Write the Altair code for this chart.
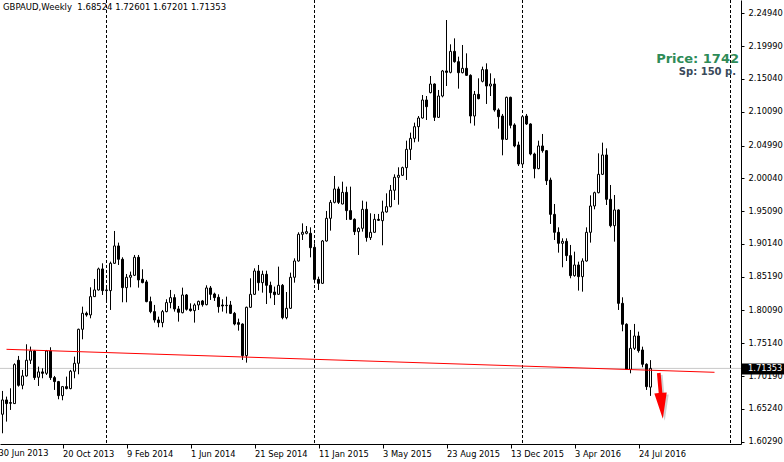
import altair as alt
import pandas as pd

# ---------------- data ----------------
SYMBOL = "GBPAUD"
TIMEFRAME = "Weekly"
FIRST_WEEK = "2013-07-07"

OPEN = [1.6443,1.6659,1.6619,1.6604,1.7258,1.6880,1.7021,1.7258,1.7398,1.7001,
        1.7082,1.7061,1.7398,1.6996,1.6936,1.6724,1.6860,1.6830,1.7092,1.7212,
        1.7725,1.7967,1.7942,1.8218,1.8319,1.8636,1.8309,1.8309,1.8721,1.8983,
        1.8782,1.8354,1.8510,1.8540,1.8812,1.8480,1.8440,1.8143,1.7992,1.7866,
        1.7826,1.7992,1.8128,1.8203,1.8032,1.7976,1.8243,1.8032,1.8007,1.8092,
        1.8153,1.8097,1.8349,1.8258,1.8208,1.8092,1.8087,1.8092,1.7966,1.7826,
        1.7805,1.7328,1.8057,1.8253,1.8605,1.8429,1.8555,1.8389,1.8288,1.8253,
        1.8389,1.7901,1.8042,1.8510,1.8756,1.9159,1.9174,1.9174,1.8962,1.8479,
        1.8419,1.9058,1.9400,1.9641,1.9843,1.9616,1.9792,1.9516,1.9385,1.9199,
        1.9249,1.9536,1.9109,1.9189,1.9385,1.9365,1.9496,1.9576,1.9823,2.0019,
        2.0049,2.0165,2.0441,2.0607,2.0783,2.0914,2.1186,2.1297,2.1427,2.0924,
        2.1246,2.1624,2.1603,2.1920,2.1764,2.1598,2.1664,2.1558,2.0944,2.1271,
        2.1468,2.1644,2.1397,2.1427,2.1035,2.0944,2.0592,2.1226,2.0809,2.0507,
        2.0220,2.0944,2.0824,2.0371,2.0150,2.0492,2.0421,1.9978,1.9460,1.9189,
        1.9023,1.9053,1.8837,1.8535,1.8696,1.8520,1.8756,1.9189,1.9586,1.9787,
        2.0064,2.0356,1.9687,1.9289,1.9526,1.8117,1.7801,1.7121,1.7438,1.7624,
        1.7413,1.7197,1.68524]
HIGH = [1.6795,1.6709,1.6835,1.7212,1.7323,1.7112,1.7499,1.7464,1.7413,1.7162,
        1.7137,1.7413,1.7454,1.7021,1.6946,1.6870,1.7011,1.7112,1.7313,1.7735,
        1.8067,1.7992,1.8359,1.8485,1.8656,1.8721,1.8394,1.8746,1.9209,1.9033,
        1.8812,1.8560,1.8596,1.8847,1.8847,1.8631,1.8470,1.8218,1.8093,1.7916,
        1.8017,1.8178,1.8319,1.8254,1.8077,1.8354,1.8258,1.8117,1.8117,1.8158,
        1.8168,1.8389,1.8379,1.8278,1.8253,1.8178,1.8218,1.8153,1.7987,1.7886,
        1.7815,1.8067,1.8495,1.8645,1.8696,1.8610,1.8610,1.8444,1.8369,1.8671,
        1.8409,1.8288,1.8580,1.8796,1.9189,1.9324,1.9284,1.9264,1.9023,1.8520,
        1.9073,1.9511,1.9677,2.0039,1.9878,1.9953,1.9878,1.9878,1.9400,1.9264,
        1.9667,1.9652,1.9476,1.9466,1.9466,1.9667,1.9777,1.9903,2.0064,2.0170,
        2.0180,2.0572,2.0693,2.0844,2.0944,2.1261,2.1246,2.1548,2.1437,2.1337,
        2.1639,2.2393,2.2026,2.2116,2.1840,2.2016,2.1890,2.1573,2.1322,2.1513,
        2.1689,2.1739,2.1588,2.1513,2.1060,2.0975,2.1236,2.1236,2.0834,2.0557,
        2.0944,2.0975,2.0834,2.0391,2.0572,2.0673,2.0431,2.0014,1.9616,1.9264,
        1.9098,1.9098,1.8998,1.8897,1.8746,1.8796,1.9264,1.9747,1.9802,2.0381,
        2.0542,2.0456,1.9903,1.9752,1.9536,1.8208,1.7816,1.7715,1.7806,1.7690,
        1.7463,1.7212,1.72601]
LOW = [1.6156,1.6332,1.6508,1.6599,1.6860,1.6820,1.7011,1.7202,1.6961,1.6870,
       1.6986,1.7036,1.6961,1.6810,1.6669,1.6654,1.6820,1.6820,1.6986,1.7046,
       1.7574,1.7916,1.7891,1.8218,1.8309,1.8243,1.8168,1.8017,1.8711,1.8696,
       1.8133,1.8133,1.8359,1.8530,1.8354,1.8419,1.8133,1.7967,1.7826,1.7756,
       1.7756,1.7982,1.8042,1.7992,1.7841,1.7966,1.8007,1.7992,1.7826,1.8017,
       1.8067,1.8087,1.8168,1.8153,1.7976,1.7992,1.7966,1.7956,1.7785,1.7705,
       1.7262,1.7222,1.8047,1.8243,1.8308,1.8278,1.8107,1.8193,1.8092,1.8243,
       1.7876,1.7876,1.8032,1.8429,1.8746,1.9073,1.9159,1.8811,1.8419,1.8318,
       1.8409,1.9048,1.9214,1.9626,1.9616,1.9611,1.9375,1.9375,1.9148,1.8847,
       1.9199,1.9048,1.9073,1.9184,1.9360,1.8993,1.9486,1.9566,1.9677,1.9606,
       2.0039,1.9979,2.0280,2.0547,2.0557,2.0904,2.0884,2.1286,2.0869,2.0914,
       2.1226,2.1397,2.1588,2.1749,2.1357,2.1588,2.1548,2.0834,2.0799,2.1196,
       2.1452,2.1126,2.1246,2.1010,2.0753,2.0351,2.0582,2.0758,2.0472,2.0190,
       2.0205,2.0809,2.0351,2.0004,2.0140,2.0391,1.9903,1.9315,1.9073,1.8882,
       1.8661,1.8756,1.8495,1.8520,1.8309,1.8293,1.8746,1.9033,1.9536,1.9777,
       2.0054,1.9601,1.9264,1.9048,1.8017,1.7695,1.7111,1.7061,1.7413,1.7373,
       1.7152,1.6810,1.67201]
CLOSE = [1.6659,1.6604,1.6609,1.7192,1.6880,1.7021,1.7258,1.7398,1.6996,1.7082,
         1.7061,1.7398,1.6996,1.6936,1.6724,1.6860,1.6830,1.7092,1.7212,1.7725,
         1.7967,1.7942,1.8218,1.8319,1.8636,1.8309,1.8319,1.8721,1.8983,1.8782,
         1.8354,1.8510,1.8540,1.8812,1.8470,1.8430,1.8143,1.7992,1.7866,1.7826,
         1.7992,1.8128,1.8203,1.8032,1.7982,1.8243,1.8027,1.8007,1.8092,1.8147,
         1.8097,1.8349,1.8253,1.8203,1.8067,1.8077,1.8082,1.7966,1.7805,1.7800,
         1.7328,1.8057,1.8253,1.8605,1.8429,1.8555,1.8389,1.8278,1.8248,1.8389,
         1.7901,1.8042,1.8510,1.8756,1.9159,1.9189,1.9199,1.8957,1.8479,1.8419,
         1.9058,1.9400,1.9641,1.9843,1.9641,1.9792,1.9516,1.9385,1.9199,1.9249,
         1.9536,1.9109,1.9189,1.9385,1.9370,1.9496,1.9576,1.9823,2.0019,2.0049,
         2.0165,2.0441,2.0607,2.0783,2.0914,2.1186,2.1085,2.1427,2.0924,2.1246,
         2.1624,2.1603,2.1920,2.1764,2.1598,2.1664,2.1558,2.0944,2.1271,2.1206,
         2.1644,2.1397,2.1427,2.1035,2.0934,2.0592,2.1226,2.0804,2.0492,2.0220,
         2.0934,2.0824,2.0371,2.0150,2.0492,2.0421,1.9968,1.9460,1.9189,1.9023,
         1.9053,1.8837,1.8535,1.8696,1.8520,1.8756,1.9189,1.9586,1.9787,2.0064,
         2.0356,1.9687,1.9289,1.9526,1.8117,1.7801,1.7121,1.7438,1.7624,1.7403,
         1.7197,1.6860,1.71353]

PRICE_TICKS = [2.24940, 2.19990, 2.15040, 2.10090, 2.04990, 2.00040, 1.95090,
               1.90140, 1.85190, 1.80090, 1.75140, 1.70190, 1.65240, 1.60290]
DATE_TICKS = ["2013-10-20", "2014-02-09", "2014-06-01", "2014-09-21", "2015-01-11",
              "2015-05-03", "2015-08-23", "2015-12-13", "2016-04-03", "2016-07-24"]
FIRST_LABEL_DATE = "2013-06-30"
FIRST_LABEL = "30 Jun 2013"
YEAR_SEPARATORS = ["2014-01-05", "2015-01-04", "2016-01-03", "2017-01-01"]
TREND_DATES = ["2013-07-14", "2016-12-04"]
TREND_PRICES = [1.7423, 1.7076]
ARROW_DATE = ["2016-09-01"]
ARROW_PRICE = [1.672]
TARGET_TEXT = "Price: 1742"
SPREAD_TEXT = "Sp: 150 p."

# ---------------- helpers ----------------
def ms(s):
    return int(pd.Timestamp(s).value // 10**6)

WEEK = 7 * 24 * 3600 * 1000
BASE = ms(FIRST_LABEL_DATE)
X_DOMAIN = [BASE + 0.375 * WEEK, BASE + 185.625 * WEEK]
Y_DOMAIN = [1.5994, 2.2695]

dates = pd.date_range(FIRST_WEEK, periods=len(OPEN), freq="7D")
df = pd.DataFrame({
    "t": [int(d.value // 10**6) for d in dates],
    "open": OPEN, "high": HIGH, "low": LOW, "close": CLOSE,
})

FONT = "DejaVu Sans"
FS = 8.3

x_scale = alt.Scale(type="utc", domain=X_DOMAIN, nice=False, padding=0)
y_scale = alt.Scale(domain=Y_DOMAIN, nice=False, zero=False, padding=0)
x_axis = alt.Axis(values=[ms(d) for d in DATE_TICKS],
                  labelExpr="utcFormat(datum.value, '%-d %b %Y')",
                  orient="bottom", title=None, grid=False,
                  tickSize=4, tickColor="black", domainColor="black",
                  labelAlign="left", labelBaseline="top", labelPadding=1,
                  labelFont=FONT, labelFontSize=FS, labelColor="black",
                  labelOverlap=False, labelFlush=False)
y_axis = alt.Axis(values=PRICE_TICKS, format=".5f", orient="right", title=None,
                  grid=False, tickSize=3, tickColor="black", domainColor="black",
                  labelPadding=4, labelFont=FONT, labelFontSize=FS,
                  labelColor="black", labelOverlap=False, labelFlush=False)

def X(field):
    return alt.X(field, type="temporal", scale=x_scale, axis=x_axis)

def Y(field):
    return alt.Y(field, type="quantitative", scale=y_scale, axis=y_axis)

base = alt.Chart(df)

last_price = CLOSE[-1]
price_df = pd.DataFrame({"p": [last_price], "label": [f"{last_price:.5f}"]})

price_line = alt.Chart(price_df).mark_rule(color="#c8c8c8", strokeWidth=1).encode(y=Y("p"))

sep_df = pd.DataFrame({"t": [ms(d) for d in YEAR_SEPARATORS]})
separators = alt.Chart(sep_df).mark_rule(color="black", strokeWidth=1, strokeDash=[3, 2]).encode(x=X("t"))

wicks = base.mark_rule(color="black", strokeWidth=1).encode(x=X("t"), y=Y("low"), y2="high")
bodies = base.mark_bar(size=2, stroke="black", strokeWidth=1).encode(
    x=X("t"), y=Y("open"), y2="close",
    fill=alt.condition("datum.close >= datum.open", alt.value("white"), alt.value("black")),
)

trend_df = pd.DataFrame({"t": [ms(d) for d in TREND_DATES], "p": TREND_PRICES})
trend = alt.Chart(trend_df).mark_line(color="#ff0000", strokeWidth=1).encode(x=X("t"), y=Y("p"))

arrow_df = pd.DataFrame({"t": [ms(d) for d in ARROW_DATE], "p": ARROW_PRICE})
ARROW_PATH = "M-0.08,-1 L0.08,-1 L0.08,-0.13 L0.27,-0.13 L0,1 L-0.27,-0.13 L-0.08,-0.13 Z"
arrow_shadow = alt.Chart(arrow_df).mark_point(
    shape=ARROW_PATH, size=2116, angle=355, filled=True, fill="#000000",
    opacity=0.18, strokeWidth=0, xOffset=2, yOffset=2,
).encode(x=X("t"), y=Y("p"))
arrow = alt.Chart(arrow_df).mark_point(
    shape=ARROW_PATH, size=2116, angle=355, filled=True, fill="#ff0000",
    opacity=1, strokeWidth=0,
).encode(x=X("t"), y=Y("p"))

price_box = alt.Chart(price_df).mark_rect(color="black", yOffset=-5, y2Offset=6).encode(
    y=Y("p"), y2="p", x=alt.value(742), x2=alt.value(784))
price_text = alt.Chart(price_df).mark_text(
    align="left", baseline="middle", font=FONT, fontSize=FS, color="white", dy=0.5
).encode(y=Y("p"), x=alt.value(748), text="label:N")

first_label_df = pd.DataFrame({"t": [ms(FIRST_LABEL_DATE)], "label": [FIRST_LABEL]})
first_label = alt.Chart(first_label_df).mark_text(
    align="left", baseline="top", font=FONT, fontSize=FS, color="black"
).encode(x=X("t"), y=alt.value(449), text="label:N")

header = f"{SYMBOL},{TIMEFRAME}\u00a0\u00a0" + " ".join(
    f"{v:.5f}" for v in [OPEN[-1], HIGH[-1], LOW[-1], CLOSE[-1]])
text_df = pd.DataFrame({"a": [header], "b": [TARGET_TEXT], "c": [SPREAD_TEXT]})
header_text = alt.Chart(text_df).mark_text(
    align="left", baseline="alphabetic", font=FONT, fontSize=8.5, color="black"
).encode(x=alt.value(3), y=alt.value(9.7), text="a:N")
target_text = alt.Chart(text_df).mark_text(
    align="right", baseline="alphabetic", font=FONT, fontSize=13, fontWeight="bold",
    color="#2E8B57"
).encode(x=alt.value(739), y=alt.value(62.7), text="b:N")
spread_text = alt.Chart(text_df).mark_text(
    align="right", baseline="alphabetic", font=FONT, fontSize=10, fontWeight="bold",
    color="#3a4a5a"
).encode(x=alt.value(736), y=alt.value(75), text="c:N")

chart = alt.layer(
    price_line, separators, wicks, bodies, trend, arrow_shadow, arrow,
    price_box, price_text, first_label, header_text, target_text, spread_text,
).properties(
    width=741, height=444,
    autosize=alt.AutoSizeParams(type="none"),
    padding={"left": 0, "top": 0, "right": 43, "bottom": 18},
    background="white",
).configure_view(stroke="transparent")

chart.save("out.html", embed_options={"renderer": "svg", "actions": False})
